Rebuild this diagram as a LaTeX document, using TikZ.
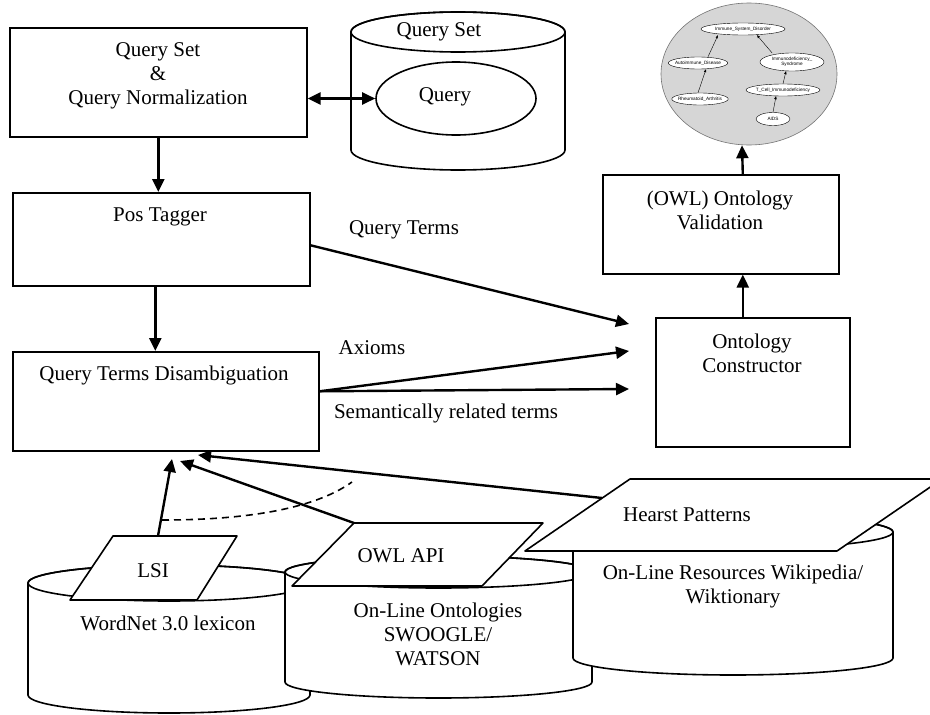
\documentclass[tikz,border=0pt]{standalone}
\usepackage{fontspec}
\setmainfont{Liberation Serif}
\newfontfamily\graphfont{Liberation Sans}
\usetikzlibrary{arrows.meta,shapes.geometric,positioning}
\tikzset{>={Triangle[length=13pt,width=12pt]}}
\tikzset{box/.style={shape=rectangle, draw, fill=white, line width=1.6pt,
    anchor=north west, inner sep=0pt},
  txt/.style={align=center, inner sep=0pt, font=\fontsize{21}{24}\selectfont},
  shapeline/.style={line width=1.6pt, line join=round},
  flow/.style={->, line width=2.4pt},
  gnode/.style={shape=ellipse, draw, fill=white, line width=0.4pt, align=center,
    inner xsep=-2pt, inner ysep=0.5pt, minimum height=12pt,
    font=\graphfont\fontsize{4.7}{5.4}\selectfont},
  garrow/.style={-{Triangle[length=3pt,width=2.4pt]}, line width=0.4pt}}

% cylinder: centre x, x radius, top y, bottom y, y radius
\newcommand{\dbcyl}[5]{%
  \draw[shapeline, fill=white] ({#1-#2},#3) -- ({#1-#2},#4)
    arc[start angle=180, end angle=360, x radius=#2pt, y radius=#5pt]
    -- ({#1+#2},#3)
    arc[start angle=0, end angle=180, x radius=#2pt, y radius=#5pt] -- cycle;
  \draw[shapeline] (#1,#3) ellipse[x radius=#2pt, y radius=#5pt];
}

\begin{document}
\begin{tikzpicture}[x=1pt, y=-1pt]
  \clip (0,0) rectangle (930,715);

  % query side
  \node[box, minimum width=297pt, minimum height=109pt] (qnorm) at (9,27) {};
  \node[txt] (qnorm-t) at (158,76) {Query Set\\\&\\Query Normalization};
  \dbcyl{458}{107}{32}{150}{20}
  \node[txt] (qset-t) at (439,32) {Query Set};
  \node[shape=ellipse, draw, fill=white, line width=1.6pt,
    minimum width=160pt, minimum height=73pt] (query) at (456,98.5) {};
  \node[txt] (query-t) at (445,97) {Query};

  \node[box, minimum width=297pt, minimum height=93pt] (pos) at (12,192) {};
  \node[txt] (pos-t) at (160,217) {Pos Tagger};
  \node[box, minimum width=306pt, minimum height=99pt] (qtd) at (12,351) {};
  \node[txt] (qtd-t) at (164,375) {Query Terms Disambiguation};

  % ontology side
  \node[box, minimum width=194pt, minimum height=129pt] (constr) at (655,317) {};
  \node[txt] (constr-t) at (752,353) {Ontology\\Constructor};
  \node[box, minimum width=236pt, minimum height=99pt] (valid) at (602,174) {};
  \node[txt] (valid-t) at (720,210) {(OWL) Ontology\\Validation};

  \node[shape=ellipse, draw=black!55, fill=black!16, line width=0.6pt,
    minimum width=176pt, minimum height=142pt] (owlgraph) at (749,74) {};
  \node[gnode, minimum width=84pt] (isd) at (743,29) {Immune\_System\_Disorder};
  \node[gnode, minimum width=55pt] (ad) at (698,63) {Autoimmune\_Disease};
  \node[gnode, minimum width=64pt, minimum height=18pt] (isy) at (792,62)
    {Immunodeficiency\_\\Syndrome};
  \node[gnode, minimum width=56pt] (ra) at (700,99) {Rheumatoid\_Arthritis};
  \node[gnode, minimum width=74pt] (tci) at (783,90) {T\_Cell\_Immunodeficiency};
  \node[gnode, minimum width=34pt, minimum height=13pt] (aids) at (773,119) {AIDS};
  \draw[garrow] ([xshift=10pt]ad.north) -- ([xshift=-25pt]isd.south);
  \draw[garrow] ([xshift=-20pt]isy.north) -- ([xshift=14pt]isd.south);
  \draw[garrow] ([xshift=-2pt]ra.north) -- ([xshift=8pt]ad.south);
  \draw[garrow] (tci.north) -- ([xshift=-6pt]isy.south);
  \draw[garrow] (aids.north) -- ([xshift=-7pt]tci.south);

  % resources
  \dbcyl{169}{141}{583}{695}{18}
  \node[txt] (wn-t) at (168,623) {WordNet 3.0 lexicon};
  \dbcyl{438.5}{153.5}{572}{682}{16}
  \node[txt] (onto-t) at (438,634) {On-Line Ontologies\\SWOOGLE/\\WATSON};
  \dbcyl{733}{160}{532}{658}{17}
  \node[txt] (res-t) at (733,586) {On-Line Resources Wikipedia/\\Wiktionary};

  \draw[shapeline, fill=white] (70,600) -- (197,600) -- (237,536) -- (113,536) -- cycle;
  \node[txt] (lsi) at (153,571) {LSI};
  \draw[shapeline, fill=white] (292,586) -- (482,586) -- (543,523) -- (354,523) -- cycle;
  \node[txt] (owlapi) at (401,556) {OWL API};
  \draw[shapeline, fill=white] (525,551) -- (837,551) -- (942,479) -- (630,479) -- cycle;
  \node[txt] (hearst) at (687,515) {Hearst Patterns};

  \coordinate (lsi-top) at (158,536);
  \coordinate (owlapi-top) at (354,523);
  \coordinate (hearst-side) at (602,498);
  \coordinate (qtd-in1) at (172,459);
  \coordinate (qtd-in2) at (180,461);
  \coordinate (qtd-in3) at (198,455);
  \coordinate (con-in1) at (629,324);
  \coordinate (con-in2) at (629,351);
  \coordinate (con-in3) at (629,389);
  \coordinate (arc-a) at (162,520);
  \coordinate (arc-b) at (352,482);

  % connectors
  \draw[flow, <->] (query.west -| qnorm.east) -- (query.west);
  \draw[flow] (qnorm.south) -- (qnorm.south |- pos.north);
  \draw[flow] ([xshift=-6pt]pos.south) -- ([xshift=-6pt]pos.south |- qtd.north);
  \draw[flow] ([yshift=-6pt]pos.east) -- (con-in1);
  \draw[flow] ([yshift=10pt]qtd.east) -- (con-in2);
  \draw[flow] ([yshift=10pt]qtd.east) -- (con-in3);
  \draw[flow] ([xshift=-10pt]constr.north) -- ([xshift=22pt]valid.south);
  \draw[flow] ([xshift=22pt]valid.north) -- ([xshift=-7pt]owlgraph.south);
  \draw[flow] (lsi-top) -- (qtd-in1);
  \draw[flow] (owlapi-top) -- (qtd-in2);
  \draw[flow] (hearst-side) -- (qtd-in3);
  \draw[line width=1.6pt, dash pattern=on 7pt off 5pt]
    (arc-a) .. controls (260,520) and (320,505) .. (arc-b);

  \node[txt] (qterms-l) at (404,230) {Query Terms};
  \node[txt] (axioms-l) at (372,348) {Axioms};
  \node[txt] (sem-l) at (446,413) {Semantically related terms};
\end{tikzpicture}
\end{document}
